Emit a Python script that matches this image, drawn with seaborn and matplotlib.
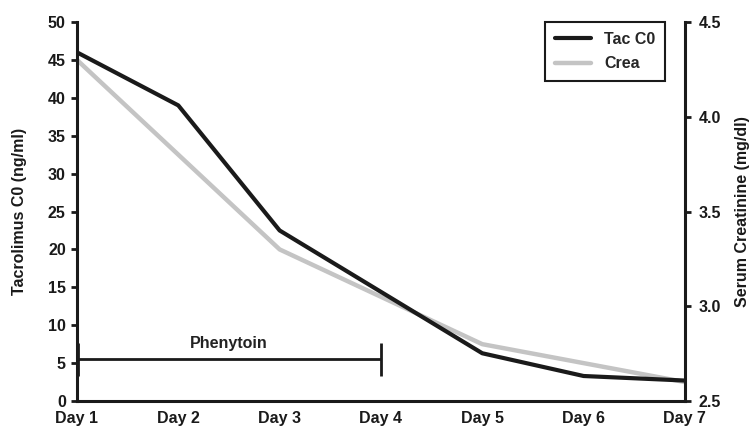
import matplotlib
matplotlib.use("Agg")
import matplotlib.pyplot as plt
import seaborn as sns
import pandas as pd

days = ["Day 1", "Day 2", "Day 3", "Day 4", "Day 5", "Day 6", "Day 7"]
tac_c0 = [46.0, 39.0, 22.5, 14.4, 6.3, 3.3, 2.7]
crea = [4.30, 3.80, 3.30, 3.05, 2.80, 2.70, 2.60]
left_ticks = [0, 5, 10, 15, 20, 25, 30, 35, 40, 45, 50]
right_ticks = [2.5, 3.0, 3.5, 4.0, 4.5]
phenytoin_start, phenytoin_end, phenytoin_level = 0, 3, 5.5

sns.set_theme(style="white")
plt.rcParams['font.family'] = ['Liberation Sans', 'DejaVu Sans']
plt.rcParams['font.weight'] = 'bold'

FS = 11.5
df = pd.DataFrame({"x": range(len(days)), "tac": tac_c0, "crea": crea})

fig = plt.figure(figsize=(7.51, 4.30), dpi=100)
ax = fig.add_axes([0.1025, 0.0674, 0.8095, 0.8814])
ax2 = ax.twinx()

dark = "#1a1a1a"
grey = "#c4c4c4"

sns.lineplot(data=df, x="x", y="crea", ax=ax2, color=grey, lw=3.2, label="Crea", legend=False)
sns.lineplot(data=df, x="x", y="tac", ax=ax, color=dark, lw=3.0, label="Tac C0", legend=False)
ax.set_zorder(ax2.get_zorder() + 1)
ax.patch.set_visible(False)

# Phenytoin bar
ax.hlines(phenytoin_level, phenytoin_start, phenytoin_end, color=dark, lw=2.0)
ax.vlines([phenytoin_start + 0.01, phenytoin_end], 3.3, 7.6, color=dark, lw=2.0)
ax.text((phenytoin_start + phenytoin_end) / 2, 7.0, "Phenytoin", ha="center", va="baseline",
        fontsize=FS, fontweight="bold", color="#222222")

ax.set_xlim(0, len(days) - 1)
ax.set_ylim(0, 50)
ax2.set_ylim(2.5, 4.5)
ax.set_xticks(range(len(days)))
ax.set_xticklabels(days)
ax.set_yticks(left_ticks)
ax2.set_yticks(right_ticks)
ax2.set_yticklabels([f"{t:.1f}" for t in right_ticks])

for a in (ax, ax2):
    for s in a.spines.values():
        s.set_color(dark)
        s.set_linewidth(2.2)
    a.spines["top"].set_visible(False)
    a.tick_params(colors=dark, labelsize=FS, width=2, length=4, direction="out")
    a.set_xlabel("")
ax.spines["right"].set_visible(False)
ax2.spines["left"].set_visible(False)
ax2.spines["bottom"].set_visible(False)
ax.tick_params(axis="x", pad=3)
ax.tick_params(axis="y", pad=4)
ax2.tick_params(axis="y", pad=6)

for lab in ax.get_xticklabels() + ax.get_yticklabels() + ax2.get_yticklabels():
    lab.set_fontweight("bold")

ax.set_ylabel("Tacrolimus C0 (ng/ml)", fontsize=FS, fontweight="bold", color=dark, labelpad=15)
ax2.set_ylabel("Serum Creatinine (mg/dl)", fontsize=FS, fontweight="bold", color=dark, labelpad=10)

h1, l1 = ax.get_legend_handles_labels()
h2, l2 = ax2.get_legend_handles_labels()
leg = ax.legend(h1 + h2, l1 + l2, loc="upper right", bbox_to_anchor=(0.967, 1.0),
                borderaxespad=0, frameon=True, fancybox=False, edgecolor=dark, framealpha=1,
                prop={"weight": "bold", "size": FS}, handlelength=2.3, borderpad=0.6,
                labelspacing=0.6)
leg.get_frame().set_linewidth(1.5)

fig.savefig("out.png", dpi=100)
